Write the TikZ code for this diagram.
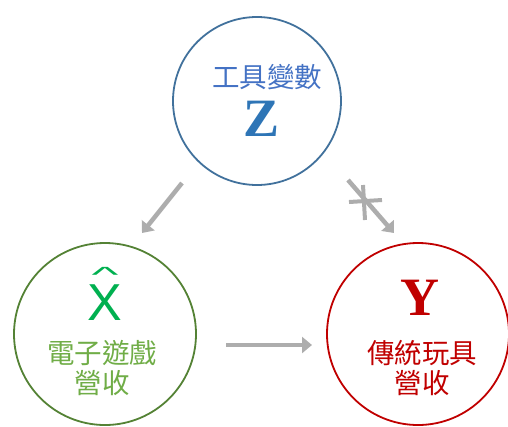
\documentclass[tikz,border=0pt]{standalone}
\usepackage{fontspec}
\setmainfont{Liberation Serif}
\newfontfamily\cjk{Noto Sans CJK TC}
\newfontfamily\sansx{Liberation Sans}
\usetikzlibrary{arrows.meta}
\definecolor{zblue}{HTML}{41719C}
\definecolor{ztext}{HTML}{4472C4}
\definecolor{zletter}{HTML}{2E75B6}
\definecolor{xgreen}{HTML}{548235}
\definecolor{xtext}{HTML}{70AD47}
\definecolor{xletter}{HTML}{00B050}
\definecolor{yred}{HTML}{C00000}
\definecolor{arrgray}{HTML}{ADADAD}
\newcommand{\xhatmark}{\rlap{\hbox to \fontcharwd\font`X{\hss\raisebox{38.2pt}{\fontsize{44}{44}\selectfont\scalebox{1.3}[0.5]{\^{}}}\hss}}X}
\begin{document}
\begin{tikzpicture}[x=1pt,y=-1pt,
  circ/.style={circle, draw, line width=1.8pt, minimum size=#1, inner sep=0pt},
  lbl/.style={font=\cjk\fontsize{27.5}{30}\selectfont, align=center, inner sep=0pt},
  arr/.style={draw=arrgray, line width=4.5pt, -{Triangle[length=10pt,width=16pt]}, arrgray}]
\useasboundingbox (0,0) rectangle (508,426);
\node[circ=168pt, draw=zblue] (Z) at (257,101) {};
\node[circ=182pt, draw=xgreen] (X) at (105,334) {};
\node[circ=182pt, draw=yred] (Y) at (418,334) {};
% texts
\node[lbl, text=ztext] (zt) at (267,77) {工具變數};
\node[inner sep=0pt, text=zletter, font=\bfseries\fontsize{54}{54}\selectfont] (zl) at (262,119) {Z};
\node[inner sep=0pt, anchor=base, text=xletter, font=\sansx\fontsize{52}{52}\selectfont] (xl) at (105,320.5) {\xhatmark};
\node[lbl, text=xtext] (xt) at (102,368) {電子遊戲\\營收};
\node[inner sep=0pt, text=yred, font=\bfseries\fontsize{54}{54}\selectfont] (yl) at (420,298) {Y};
\node[lbl, text=yred] (yt) at (422,368) {傳統玩具\\營收};
% arrows
\coordinate (a1s) at (182,183);
\coordinate (a1e) at (142,233);
\coordinate (a2s) at (348,180);
\coordinate (a2e) at (394,233);
\coordinate (a3s) at (226,345);
\coordinate (a3e) at (312,345);
\draw[arr] (a1s) -- (a1e);
\draw[arr] (a2s) -- (a2e);
\draw[arr] (a3s) -- (a3e);
\coordinate (c1) at (349,202);
\coordinate (c2) at (382,200);
\coordinate (c3) at (363,185);
\coordinate (c4) at (365,220);
\draw[draw=arrgray, line width=4pt] (c1) -- (c2);
\draw[draw=arrgray, line width=4pt] (c3) -- (c4);
\end{tikzpicture}
\end{document}
